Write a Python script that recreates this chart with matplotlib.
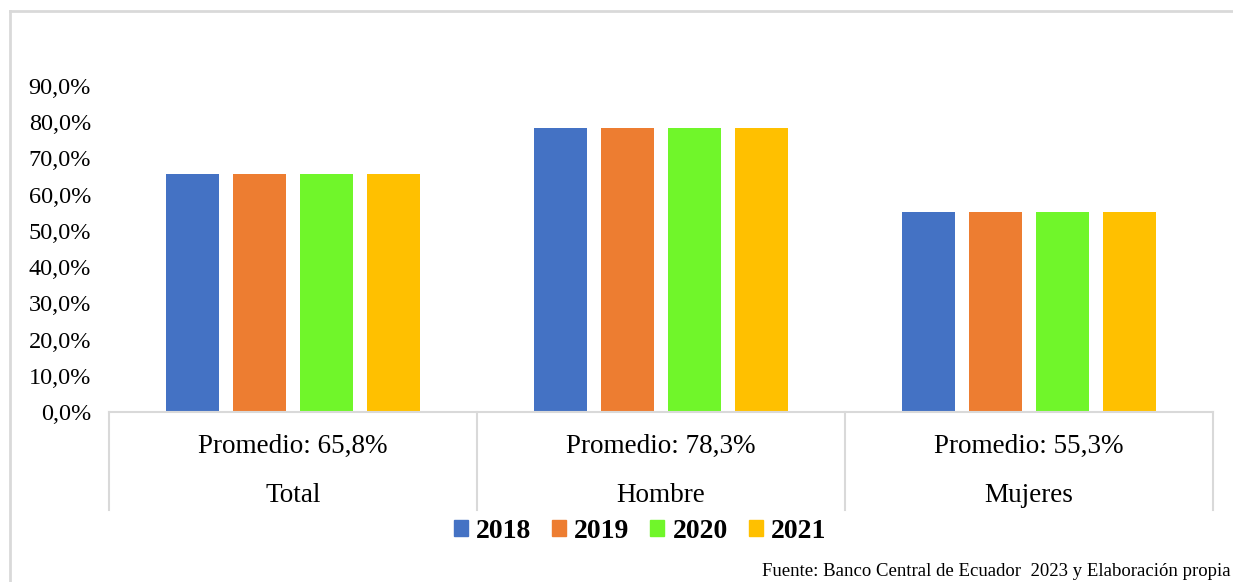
import matplotlib.pyplot as plt
from matplotlib.lines import Line2D
from matplotlib.patches import Patch
import numpy as np

# DATA #
categories = ["Total", "Hombre", "Mujeres"]
promedios = ["Promedio: 65,8%", "Promedio: 78,3%", "Promedio: 55,3%"]
years = ["2018", "2019", "2020", "2021"]
values = {
    "2018": [65.8, 78.3, 55.3],
    "2019": [65.8, 78.3, 55.3],
    "2020": [65.8, 78.3, 55.3],
    "2021": [65.8, 78.3, 55.3],
}
colors = ["#4472C4", "#ED7D31", "#70F62A", "#FFC000"]
yticks = [0, 10, 20, 30, 40, 50, 60, 70, 80, 90]
source = "Fuente: Banco Central de Ecuador  2023 y Elaboración propia"

W, H = 1233, 582
GRID = "#d9d9d9"

plt.rcParams["font.family"] = ["Liberation Serif", "DejaVu Serif"]

fig = plt.figure(figsize=(W / 100, H / 100), dpi=100)
ax = fig.add_axes([109 / W, 1 - 412 / H, (1213 - 109) / W, (412 - 86) / H])

# outer chart border (top and left visible)
fig.add_artist(Line2D([10 / W, 10 / W], [0, 1 - 11 / H], transform=fig.transFigure,
                      color=GRID, lw=2))
fig.add_artist(Line2D([10 / W, 1], [1 - 11 / H, 1 - 11 / H], transform=fig.transFigure,
                      color=GRID, lw=2))

x = np.arange(len(categories)) + 0.5
step = 67 / 368
width = 53 / 368
for i, yr in enumerate(years):
    ax.bar(x + (i - 1.5) * step, values[yr], width, color=colors[i], label=yr, zorder=2)

ax.set_xlim(0, 3)
ax.set_ylim(0, 90)
ax.set_yticks(yticks)
ax.set_yticklabels([f"{t},0%" for t in yticks], fontsize=17.5)
ax.tick_params(axis="y", length=0, pad=13)
ax.set_xticks([])
for s in ["top", "right", "left"]:
    ax.spines[s].set_visible(False)
ax.spines["bottom"].set_color(GRID)
ax.spines["bottom"].set_linewidth(1.5)

# multi-level category boxes
trans = ax.get_xaxis_transform()
for b in range(len(categories) + 1):
    ax.plot([b, b], [0, -0.30], transform=trans, color=GRID, lw=1.5, clip_on=False)
for i in range(len(categories)):
    ax.text(x[i], -0.105, promedios[i], transform=trans, ha="center", va="center", fontsize=19.5)
    ax.text(x[i], -0.255, categories[i], transform=trans, ha="center", va="center", fontsize=19.5)

handles = [Patch(color=c) for c in colors]
fig.legend(handles, years, loc="center", ncol=4, bbox_to_anchor=(640 / W, 1 - 531 / H),
           frameon=False, prop={"weight": "bold", "size": 20},
           handlelength=0.5, handleheight=0.5, handletextpad=0.3, columnspacing=0.75)

fig.text(1231 / W, 1 - 572 / H, source, ha="right", va="center", fontsize=13.5)

fig.savefig("out.png", dpi=100)
plt.close(fig)
